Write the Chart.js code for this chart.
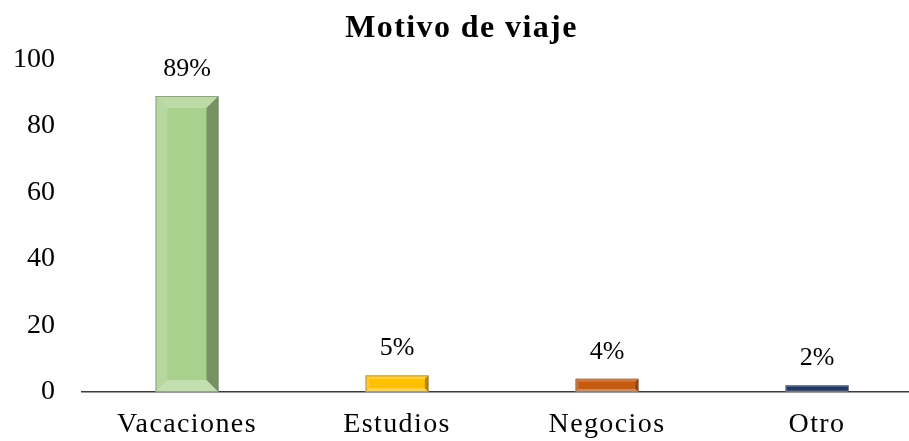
<!DOCTYPE html>
<html>
<head>
<meta charset="utf-8">
<script src="https://cdn.jsdelivr.net/npm/chart.js@4.4.1/dist/chart.umd.min.js"></script>
<style>
    html, body { margin: 0; padding: 0; background: #fff; }
    #wrap { width: 909px; height: 441px; }
</style>
</head>
<body>
<div id="wrap"><canvas id="myChart" width="909" height="441"></canvas></div>
<script>
var categories = ['Vacaciones', 'Estudios', 'Negocios', 'Otro'];
var values = [89, 5, 4, 2];
var barColors = ['#a9d18e', '#ffc000', '#c55a11', '#1f3864'];
var yTicks = [0, 20, 40, 60, 80, 100];

var serif = "'Liberation Serif', 'Times New Roman', serif";

// the plot area runs a bit past the right edge in the original picture
var plotWidth = 840;

var widenPlot = {
    id: 'widenPlot',
    afterLayout: function (chart) {
        var s = chart.scales.x;
        s.right = s.left + plotWidth;
        s.width = plotWidth;
        s.configure();

        if (chart.titleBlock) {
            chart.titleBlock.left += 7;
            chart.titleBlock.right += 7;
        }

        // y tick numbers are not spaced out like the other texts
        var y = chart.scales.y;
        if (!y._plainLabels) {
            var orig = y.drawLabels;
            y.drawLabels = function (area) {
                var old = this.ctx.letterSpacing;
                this.ctx.letterSpacing = '0px';
                orig.call(this, area);
                this.ctx.letterSpacing = old;
            };
            y._plainLabels = true;
        }
    },
    beforeDraw: function (chart) {
        chart.ctx.letterSpacing = '1.4px';
    },
    beforeDatasetsDraw: function (chart) {
        chart.ctx.letterSpacing = '0px';
    }
};

// bevel look on each bar (light top/left/bottom, dark right)
var bevelPlugin = {
    id: 'bevel',
    afterDatasetsDraw: function (chart) {
        var ctx = chart.ctx;
        var meta = chart.getDatasetMeta(0);
        meta.data.forEach(function (bar) {
            var x0 = bar.x - bar.width / 2, x1 = bar.x + bar.width / 2;
            var y0 = bar.y, y1 = bar.base;
            var h = y1 - y0;
            var b = Math.min(12, h * 0.22, bar.width / 2);
            ctx.save();
            // top
            ctx.fillStyle = 'rgba(255,255,255,0.22)';
            ctx.beginPath();
            ctx.moveTo(x0, y0); ctx.lineTo(x1, y0); ctx.lineTo(x1 - b, y0 + b); ctx.lineTo(x0 + b, y0 + b);
            ctx.closePath(); ctx.fill();
            // left
            ctx.fillStyle = 'rgba(255,255,255,0.16)';
            ctx.beginPath();
            ctx.moveTo(x0, y0); ctx.lineTo(x0 + b, y0 + b); ctx.lineTo(x0 + b, y1 - b); ctx.lineTo(x0, y1);
            ctx.closePath(); ctx.fill();
            // bottom
            ctx.fillStyle = 'rgba(255,255,255,0.3)';
            ctx.beginPath();
            ctx.moveTo(x0, y1); ctx.lineTo(x0 + b, y1 - b); ctx.lineTo(x1 - b, y1 - b); ctx.lineTo(x1, y1);
            ctx.closePath(); ctx.fill();
            // right
            ctx.fillStyle = 'rgba(0,0,0,0.3)';
            ctx.beginPath();
            ctx.moveTo(x1, y0); ctx.lineTo(x1 - b, y0 + b); ctx.lineTo(x1 - b, y1 - b); ctx.lineTo(x1, y1);
            ctx.closePath(); ctx.fill();
            // outline
            ctx.strokeStyle = 'rgba(120,120,120,0.6)';
            ctx.lineWidth = 1;
            ctx.strokeRect(x0 + 0.5, y0 + 0.5, bar.width - 1, h - 1);
            ctx.restore();
        });
    }
};

var valueLabels = {
    id: 'valueLabels',
    afterDatasetsDraw: function (chart) {
        var ctx = chart.ctx;
        var meta = chart.getDatasetMeta(0);
        ctx.save();
        ctx.letterSpacing = '0px';
        ctx.font = '26px ' + serif;
        ctx.fillStyle = '#000';
        ctx.textAlign = 'center';
        ctx.textBaseline = 'middle';
        meta.data.forEach(function (bar, i) {
            ctx.fillText(values[i] + '%', bar.x, bar.y - 27);
        });
        ctx.restore();
    }
};

const ctx = document.getElementById('myChart');

new Chart(ctx, {
    type: 'bar',
    data: {
        labels: categories,
        datasets: [{
            data: values,
            backgroundColor: barColors,
            borderWidth: 0,
            barPercentage: 0.6,
            categoryPercentage: 0.5
        }]
    },
    options: {
        responsive: false,
        animation: false,
        layout: { padding: 0 },
        plugins: {
            legend: { display: false },
            tooltip: { enabled: false },
            title: {
                display: true,
                text: 'Motivo de viaje',
                color: '#000',
                font: { family: serif, size: 32, weight: 'bold' },
                padding: { top: 10, bottom: 11 }
            }
        },
        scales: {
            x: {
                grid: { display: false, drawTicks: false },
                border: { display: true, color: '#3a3a3a', width: 1.5 },
                ticks: { color: '#000', font: { family: serif, size: 28 }, padding: 16 },
                afterFit: function (scale) { scale.height = 49; }
            },
            y: {
                min: 0,
                max: 100,
                afterBuildTicks: function (scale) {
                    scale.ticks = yTicks.map(function (v) { return { value: v }; });
                },
                grid: { display: false, drawTicks: false },
                border: { display: false },
                ticks: { color: '#000', font: { family: serif, size: 28 }, padding: 27 },
                afterFit: function (scale) { scale.width = 82; }
            }
        }
    },
    plugins: [widenPlot, bevelPlugin, valueLabels]
});
</script>
</body>
</html>
